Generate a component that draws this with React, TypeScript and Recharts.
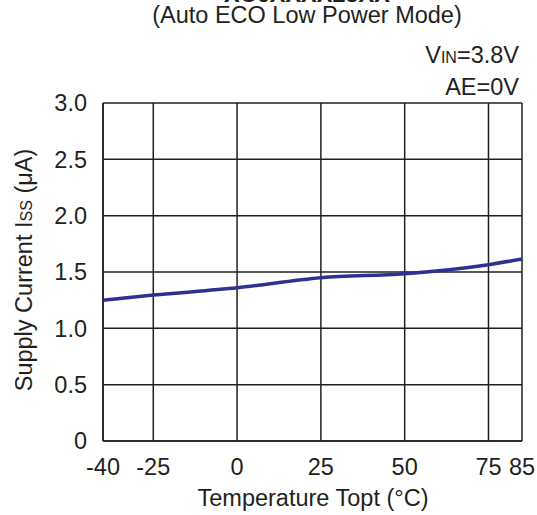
import React from 'react';
import { LineChart, Line, XAxis, YAxis, CartesianGrid, Customized } from 'recharts';

const temps = [-40, -25, 0, 25, 50, 75, 85];
const supplyCurrent = [1.25, 1.295, 1.36, 1.45, 1.485, 1.565, 1.615];
const xTicks = [-40, -25, 0, 25, 50, 75, 85];
const yTicks = [0, 0.5, 1.0, 1.5, 2.0, 2.5, 3.0];

const data = temps.map((t, i) => ({ t, iss: supplyCurrent[i] }));

const FONT = '"Liberation Sans", Arial, sans-serif';
const FS = 23.5;
const SUB = 16;

const fmtY = (v: number) => (v === 0 ? '0' : v.toFixed(1));

const Labels = () => (
  <g fontFamily={FONT} fill="#231f20">
    <text x={307} y={2} textAnchor="middle" fontSize={FS} fontWeight="bold">XC6XXXX25XX</text>
    <text x={307} y={23} textAnchor="middle" fontSize={FS}>(Auto ECO Low Power Mode)</text>
    <text x={519} y={63} textAnchor="end" fontSize={FS}>
      V<tspan fontSize={SUB}>IN</tspan>=3.8V
    </text>
    <text x={519} y={95} textAnchor="end" fontSize={FS}>AE=0V</text>
    <text x={313} y={506} textAnchor="middle" fontSize={FS}>Temperature Topt (°C)</text>
    <text x={32} y={270} textAnchor="middle" fontSize={FS} transform="rotate(-90 32 270)">
      Supply Current I<tspan fontSize={SUB}>SS</tspan> (μA)
    </text>
  </g>
);

export default function App() {
  return (
    <div style={{ position: 'absolute', left: 0, top: 0, width: 537, height: 515, background: '#fff' }}>
      <LineChart width={537} height={515} data={data} margin={{ top: 103, right: 15, left: 43, bottom: 24 }}>
        <CartesianGrid stroke="#231f20" strokeWidth={1.5} verticalValues={xTicks} horizontalValues={yTicks} />
        <XAxis
          dataKey="t"
          type="number"
          domain={[-40, 85]}
          ticks={xTicks}
          interval={0}
          height={50}
          axisLine={{ stroke: '#231f20', strokeWidth: 1.5 }}
          tickLine={false}
          tickMargin={11}
          tick={{ fill: '#231f20', fontSize: FS, fontFamily: FONT }}
        />
        <YAxis
          type="number"
          domain={[0, 3]}
          ticks={yTicks}
          interval={0}
          width={60}
          tickFormatter={fmtY}
          axisLine={{ stroke: '#231f20', strokeWidth: 1.5 }}
          tickLine={false}
          tickMargin={10}
          tick={{ fill: '#231f20', fontSize: FS, fontFamily: FONT }}
        />
        <Line
          type="monotone"
          dataKey="iss"
          stroke="#2e3192"
          strokeWidth={3.5}
          dot={false}
          isAnimationActive={false}
        />
        <Customized component={Labels} />
      </LineChart>
    </div>
  );
}
